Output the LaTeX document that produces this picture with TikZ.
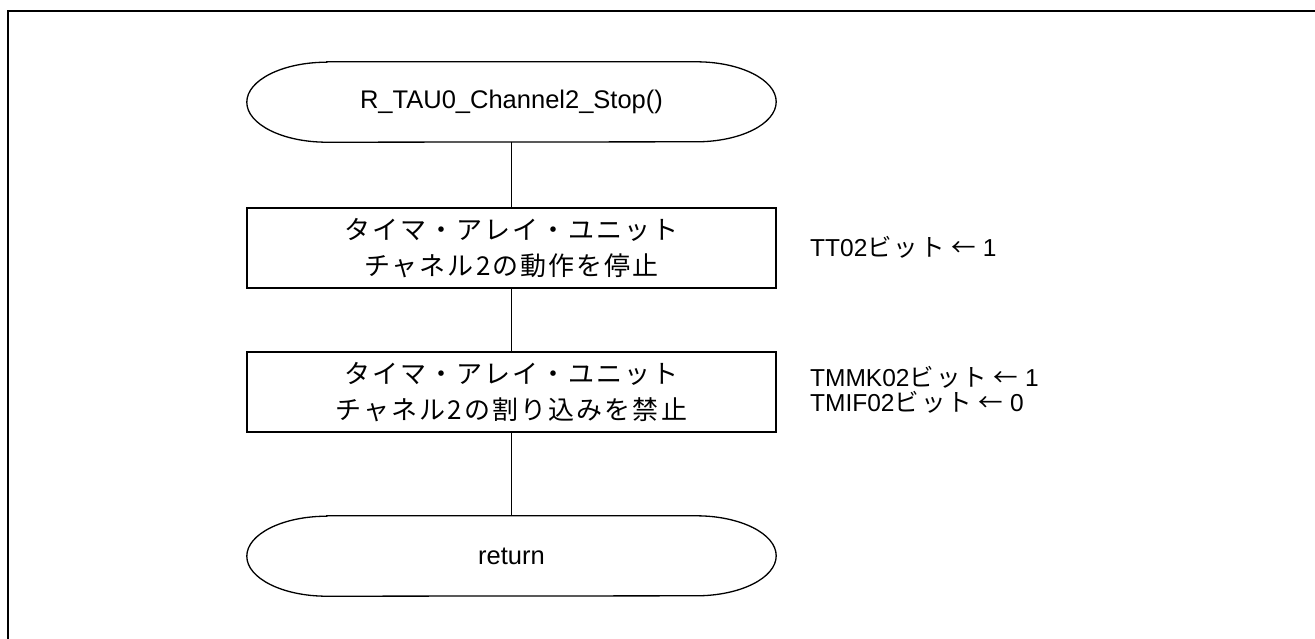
\documentclass[tikz,border=0pt]{standalone}
\usepackage{fontspec}
\setmainfont{Liberation Sans}
\newfontfamily\jp[LetterSpace=8]{Noto Sans CJK JP}
\newcommand\drawterm[1]{%
  \draw[shapeline] ([xshift=80pt]#1.north west) -- ([xshift=-80pt]#1.north east)
    arc[start angle=90,end angle=-90,x radius=80pt,y radius=40pt]
    -- ([xshift=80pt]#1.south west)
    arc[start angle=270,end angle=90,x radius=80pt,y radius=40pt] -- cycle;}
\begin{document}
\begin{tikzpicture}[x=1pt,y=-1pt,
  shapeline/.style={line width=1.3pt},
  frameline/.style={line width=2.3pt},
  term/.style={minimum width=529pt, minimum height=80pt, inner sep=0pt,
    font=\fontsize{25.5}{30}\selectfont},
  procbox/.style={draw, shapeline, minimum width=529pt, minimum height=80pt,
    inner sep=0pt, align=center, font=\jp\fontsize{26}{36}\selectfont},
  note/.style={anchor=west, align=left, inner sep=0pt,
    font=\fontsize{24.5}{25}\selectfont},
  conn/.style={draw, shapeline}]
\useasboundingbox (0,0) rectangle (1315,638);
\draw[frameline] (1320,11) -- (8,11) -- (8,645);

\node[term] (start) at (511.5,102) {R\_TAU0\_Channel2\_Stop()};
\drawterm{start}
\node[procbox] (box1) at (511.5,248) {タイマ・アレイ・ユニット\\チャネル2の動作を停止};
\node[procbox] (box2) at (511.5,392) {タイマ・アレイ・ユニット\\チャネル2の割り込みを禁止};
\node[term] (stop) at (511.5,556) {return};
\drawterm{stop}

\node[note] (n1) at (810,247) {TT02{\jp ビット} {\jp ←} 1};
\node[note] (n2) at (810,390) {TMMK02{\jp ビット} {\jp ←} 1\\TMIF02{\jp ビット} {\jp ←} 0};

\path[conn] (start.south) -- (box1.north);
\path[conn] (box1.south) -- (box2.north);
\path[conn] (box2.south) -- (stop.north);
\end{tikzpicture}
\end{document}
